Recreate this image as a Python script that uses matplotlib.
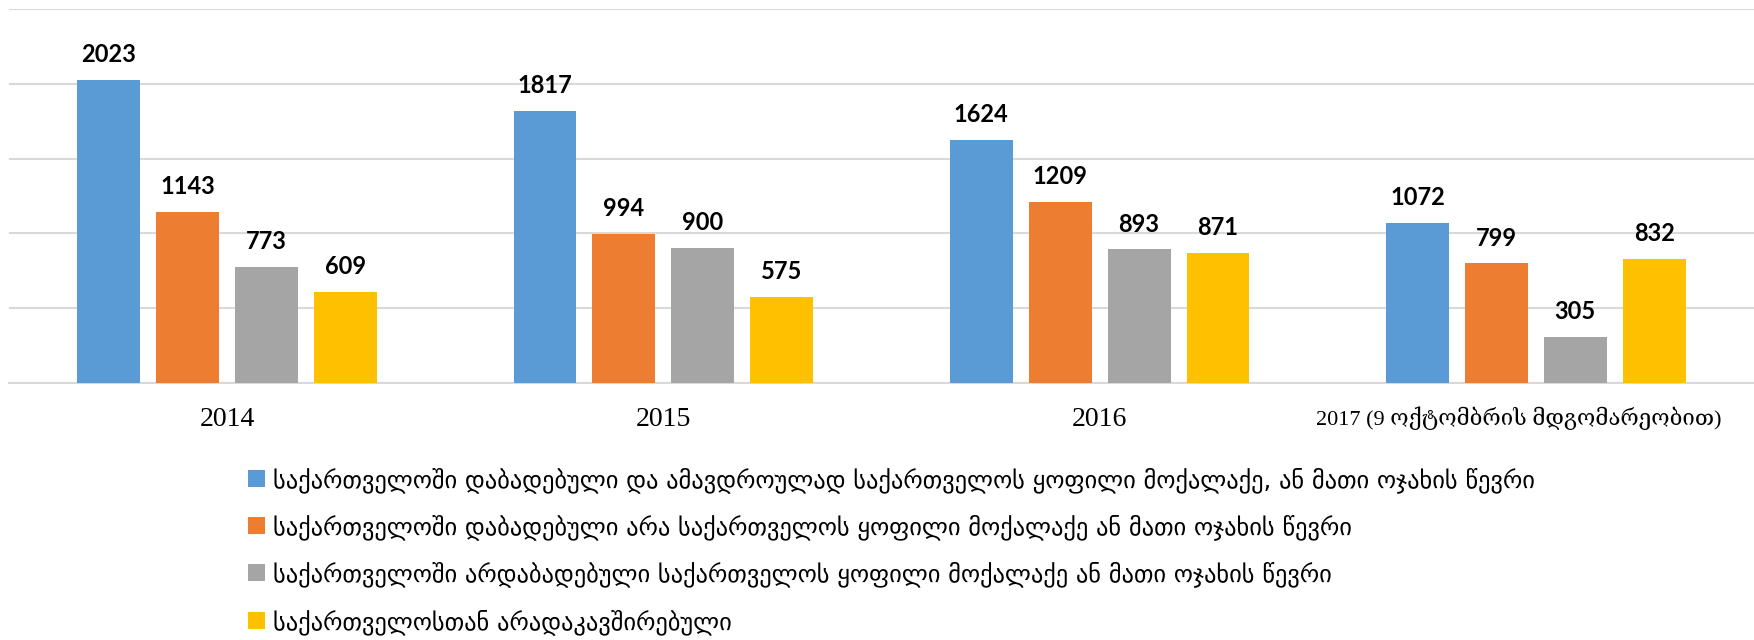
import matplotlib
matplotlib.use("Agg")
import matplotlib.pyplot as plt
import matplotlib.transforms as mtransforms
import numpy as np

categories = ["2014", "2015", "2016", "2017 (9 ოქტომბრის მდგომარეობით)"]
series_names = [
    "საქართველოში დაბადებული და ამავდროულად საქართველოს ყოფილი მოქალაქე, ან მათი ოჯახის წევრი",
    "საქართველოში დაბადებული არა საქართველოს ყოფილი მოქალაქე ან მათი ოჯახის წევრი",
    "საქართველოში არდაბადებული საქართველოს ყოფილი მოქალაქე ან მათი ოჯახის წევრი",
    "საქართველოსთან არადაკავშირებული",
]
born_former = [2023, 1817, 1624, 1072]
born_not_former = [1143, 994, 1209, 799]
not_born_former = [773, 900, 893, 305]
unrelated = [609, 575, 871, 832]
series_values = [born_former, born_not_former, not_born_former, unrelated]
colors = ["#5B9BD5", "#ED7D31", "#A5A5A5", "#FFC000"]

fig = plt.figure(figsize=(17.54, 6.4), dpi=100)
ax = fig.add_axes([9 / 1754, 1 - 383 / 640, 1 - 9 / 1754, (383 - 9) / 640])

x = np.arange(len(categories))
step = 0.181
width = 0.144
handles = []
for i, (vals, col) in enumerate(zip(series_values, colors)):
    pos = x + (i - 1.5) * step
    bars = ax.bar(pos, vals, width=width, color=col, zorder=3, label=series_names[i])
    handles.append(bars)
    for xp, v in zip(pos, vals):
        ax.annotate(str(v), (xp, v), xytext=(0, 10), textcoords="offset points",
                    ha="center", va="bottom", fontsize=17, fontweight="bold",
                    family=["Lato", "DejaVu Sans"], color="#000000")

ax.set_xlim(-0.5, len(categories) - 0.5)
ax.set_ylim(0, 2500)
ax.set_yticks([0, 500, 1000, 1500, 2000, 2500])
ax.yaxis.grid(True, color="#D9D9D9", linewidth=1.5, zorder=0)
ax.set_yticklabels([])
ax.tick_params(axis="y", length=0)
ax.tick_params(axis="x", length=0, pad=17)
ax.set_xticks(x)
ax.set_xticklabels(categories, fontsize=20, family=["Liberation Serif", "DejaVu Serif", "DejaVu Sans"])
last = ax.get_xticklabels()[-1]
last.set_fontsize(16)
last.set_transform(last.get_transform() + mtransforms.ScaledTranslation(-0.17, 0, fig.dpi_scale_trans))
for s in ["top", "right", "left"]:
    ax.spines[s].set_visible(False)
ax.spines["bottom"].set_color("#D9D9D9")
ax.spines["bottom"].set_linewidth(1.5)

leg = fig.legend(handles=handles, labels=series_names, loc="upper left",
                 bbox_to_anchor=(238 / 1754, 1 - 457 / 640), frameon=False,
                 handlelength=0.7, handleheight=0.7, handletextpad=0.35,
                 labelspacing=0.88, borderaxespad=0,
                 prop={"family": ["DejaVu Sans"], "size": 17.6})

fig.savefig("out.png", dpi=100)
